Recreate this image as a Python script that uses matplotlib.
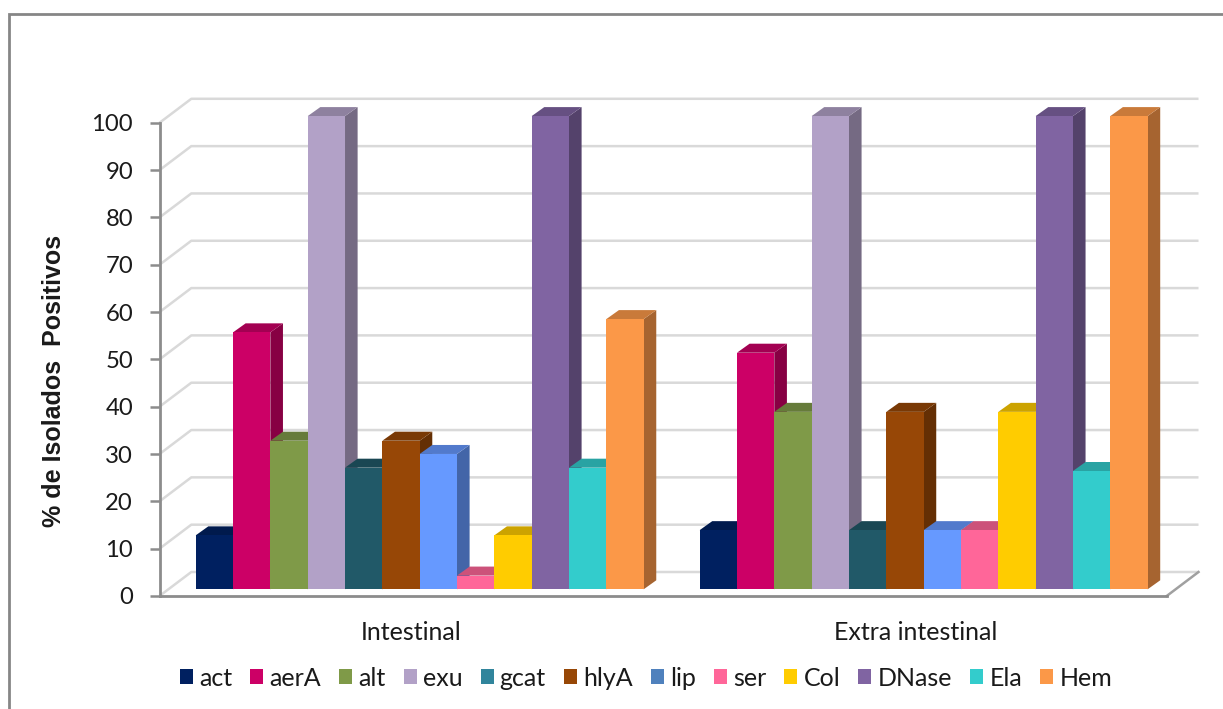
import matplotlib
matplotlib.use("Agg")
import matplotlib.pyplot as plt
from matplotlib.colors import to_rgb
from matplotlib.patches import Patch, Polygon, Rectangle

# Percentage of positive isolates per virulence factor and enzymatic activity
categories = ["Intestinal", "Extra intestinal"]
factors = ["act", "aerA", "alt", "exu", "gcat", "hlyA", "lip", "ser",
           "Col", "DNase", "Ela", "Hem"]
intestinal = [11.4, 54.3, 31.4, 100, 25.7, 31.4, 28.6, 2.9, 11.4, 100, 25.7, 57.1]
extra_intestinal = [12.5, 50, 37.5, 100, 12.5, 37.5, 12.5, 12.5, 37.5, 100, 25, 100]
series_by_category = [intestinal, extra_intestinal]

bar_colors = ["#002060", "#CC0066", "#7F9A48", "#B2A1C7", "#215968", "#974706",
              "#6699FF", "#FF6699", "#FFCC00", "#8064A2", "#33CCCC", "#FB9848"]
legend_colors = ["#002060", "#CC0066", "#7F9A48", "#B2A1C7", "#31859C", "#974706",
                 "#4F81BD", "#FF6699", "#FFCC00", "#8064A2", "#33CCCC", "#FB9848"]
y_ticks = list(range(0, 101, 10))

W, H = 1223, 709
LEFT, RIGHT, BOTTOM, TOP = 159.5, 1166.7, 596.0, 122.8
BAR_PX = 37.33
PX_Y = (BOTTOM - TOP) / 100.0

fig = plt.figure(figsize=(W / 100, H / 100), dpi=100, facecolor="white")
ax = fig.add_axes([LEFT / W, 1 - BOTTOM / H, (RIGHT - LEFT) / W, (BOTTOM - TOP) / H])
ax.set_xlim(0, (RIGHT - LEFT) / BAR_PX)
ax.set_ylim(0, 100)
ax.patch.set_alpha(0)

# Projection offsets of the pseudo-3D box, expressed in data units
wall_dx, wall_dy = 31.8 / BAR_PX, 24.0 / PX_Y
bar_x0, bar_y0 = 8.2 / BAR_PX, 6.7 / PX_Y
bar_dx, bar_dy = 12.6 / BAR_PX, 9.0 / PX_Y
group_span = 13.5
group_margin = (group_span - len(factors)) / 2


def shade(color, factor):
    return tuple(c * factor for c in to_rgb(color))


# Back wall gridlines and their slanted returns on the side wall
x_end = ax.get_xlim()[1]
grid_color = "#D9D9D9"
for tick in y_ticks:
    ax.plot([0, wall_dx, x_end + wall_dx], [tick, tick + wall_dy, tick + wall_dy],
            color=grid_color, lw=1.8, clip_on=False, zorder=1, solid_capstyle="butt")

# Floor outline, right edge darker than the back edge
ax.plot([x_end, x_end + wall_dx], [0, wall_dy], color="#A0A0A0", lw=1.8,
        clip_on=False, zorder=1)

# Bars: front face through ax.bar, then side and top faces for depth
for g, values in enumerate(series_by_category):
    for i, (value, color) in enumerate(zip(values, bar_colors)):
        left = g * group_span + group_margin + bar_x0 + i
        right = left + 1
        base = bar_y0
        top = bar_y0 + value
        z = 3 + g * 20 + i
        side = Polygon([(right, base), (right + bar_dx, base + bar_dy),
                        (right + bar_dx, top + bar_dy), (right, top)],
                       closed=True, facecolor=shade(color, 0.66), edgecolor="none",
                       zorder=z, clip_on=False)
        cap = Polygon([(left, top), (right, top), (right + bar_dx, top + bar_dy),
                       (left + bar_dx, top + bar_dy)],
                      closed=True, facecolor=shade(color, 0.8), edgecolor="none",
                      zorder=z, clip_on=False)
        ax.add_patch(side)
        ax.add_patch(cap)
        ax.bar(left, value, width=1, bottom=base, align="edge", color=color,
               edgecolor="none", zorder=z + 0.5, clip_on=False)

# Axes furniture
for name in ("top", "right"):
    ax.spines[name].set_visible(False)
for name in ("left", "bottom"):
    ax.spines[name].set_color("#8C8C8C")
    ax.spines[name].set_linewidth(2.0)
    ax.spines[name].set_zorder(60)

ax.set_yticks(y_ticks)
ax.tick_params(axis="y", length=7.5, width=1.8, color="#8C8C8C", pad=11.5, labelsize=17.2)
for label in ax.get_yticklabels():
    label.set_fontfamily("Lato")
    label.set_color("#1A1A1A")

ax.set_xticks([group_span * (k + 0.5) for k in range(len(categories))])
ax.set_xticklabels(categories, fontfamily="Lato", fontsize=18, color="#1A1A1A")
ax.tick_params(axis="x", length=0, pad=18)

fig.text(54 / W, 1 - 381 / H, "% de Isolados  Positivos", rotation=90, ha="center", va="center",
         fontfamily="Liberation Sans", fontweight="bold", fontsize=18, color="#1A1A1A")

handles = [Patch(facecolor=c, edgecolor="none", label=n)
           for c, n in zip(legend_colors, factors)]
leg = fig.legend(handles=handles, loc="center", bbox_to_anchor=(646 / W, 1 - 678 / H),
                 ncol=len(factors), frameon=False, prop={"family": "Lato", "size": 18},
                 handlelength=0.52, handleheight=0.52, handletextpad=0.25,
                 columnspacing=0.72, borderpad=0, borderaxespad=0)
for text in leg.get_texts():
    text.set_color("#1A1A1A")

# Chart area frame, running off the right and bottom edges
fig.add_artist(Rectangle((9 / W, -0.05), 1.1, 1 - 13.5 / H + 0.05, transform=fig.transFigure,
                         facecolor="none", edgecolor="#868686", lw=2.0, zorder=0))

fig.savefig("out.png", dpi=100)
